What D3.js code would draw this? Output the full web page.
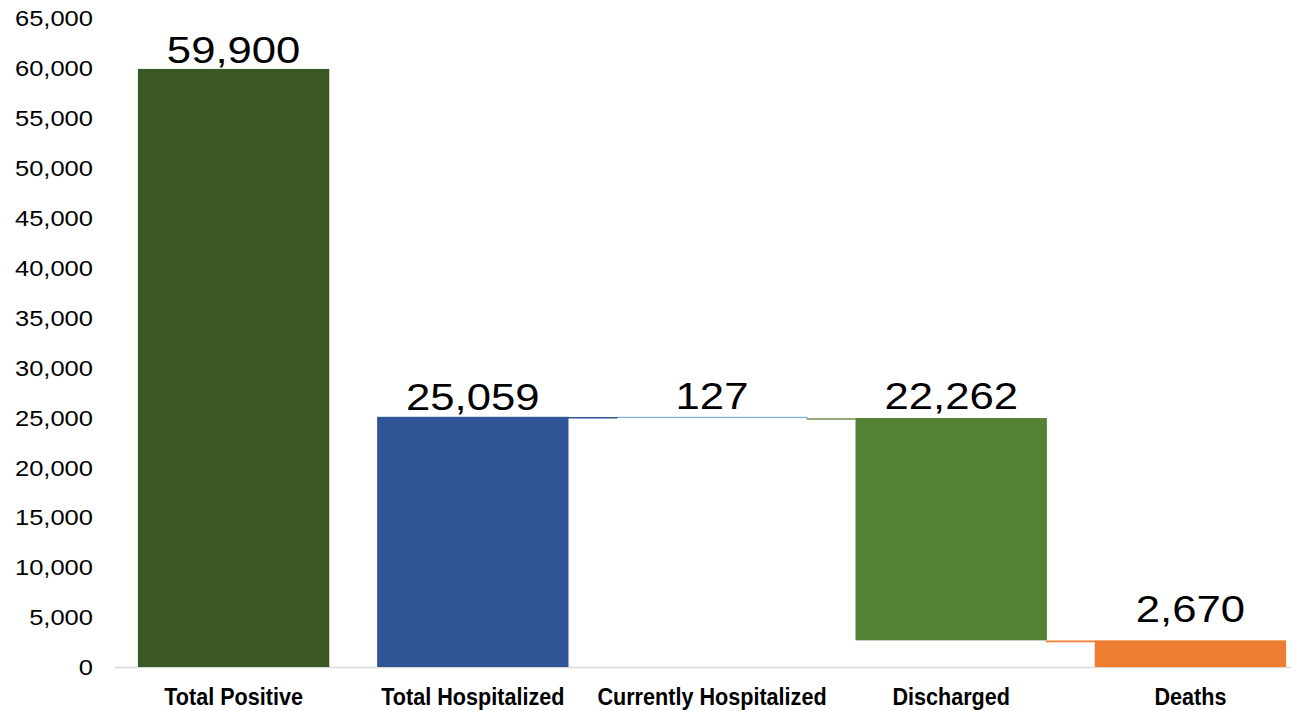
<!DOCTYPE html>
<html>
<head>
<meta charset="utf-8">
<script src="https://cdn.jsdelivr.net/npm/d3@7"></script>
<style>
  html, body { margin: 0; padding: 0; background: #fff; }
  svg { display: block; }
</style>
</head>
<body>
<svg id="chart" width="1291" height="711"></svg>
<script>
// ---- data ----
const categories = ["Total Positive", "Total Hospitalized", "Currently Hospitalized", "Discharged", "Deaths"];
const values = [59900, 25059, 127, 22262, 2670];
const kinds = ["total", "total", "decrease", "decrease", "decrease"];
const yTicks = [0, 5000, 10000, 15000, 20000, 25000, 30000, 35000, 40000, 45000, 50000, 55000, 60000, 65000];

// ---- styles ----
const barColors = ["#3b5823", "#2f5597", "#7eb0e0", "#548235", "#ed7d31"];
const connectorColors = [null, "#2f5597", "#6f8a4a", "#ed7d31"]; // gap i between bar i and i+1
const labelGap = [6, 7, 8, 9, 18];

const svg = d3.select("#chart");

const x = d3.scaleBand().domain(categories).range([114, 1310]).paddingInner(0.2).paddingOuter(0.1);
const y = d3.scaleLinear().domain([0, 65000]).range([667, 18]);

// waterfall geometry
let running = 0;
const bars = categories.map((c, i) => {
  let lo, hi;
  if (kinds[i] === "total") { lo = 0; hi = values[i]; running = values[i]; }
  else { hi = running; lo = running - values[i]; running = lo; }
  return { c, i, lo, hi, v: values[i] };
});

// baseline
svg.append("line")
  .attr("x1", 115).attr("x2", 1310)
  .attr("y1", y(0) + 0.5).attr("y2", y(0) + 0.5)
  .attr("stroke", "#d9d9d9").attr("stroke-width", 1.5);

// y axis
const yAxis = d3.axisLeft(y).tickValues(yTicks).tickFormat(d3.format(",")).tickSize(0).tickPadding(0);
const gy = svg.append("g").attr("transform", "translate(93,0)").call(yAxis);
gy.select(".domain").remove();
gy.selectAll("text")
  .attr("font-family", "'Liberation Sans', Arial, sans-serif")
  .attr("font-size", 22)
  .attr("fill", "#000")
  .attr("dy", "0.35em")
  .attr("transform", "scale(1.16,1)");

// bars
svg.append("g").selectAll("rect").data(bars).join("rect")
  .attr("x", d => x(d.c))
  .attr("width", x.bandwidth())
  .attr("y", d => y(d.hi))
  .attr("height", d => Math.max(1.3, y(d.lo) - y(d.hi)))
  .attr("fill", d => barColors[d.i]);

// connectors
for (let i = 0; i < bars.length - 1; i++) {
  const nxt = bars[i + 1];
  if (kinds[i + 1] !== "decrease") continue;
  const level = nxt.hi;
  svg.append("line")
    .attr("x1", x(bars[i].c) + x.bandwidth() - 1)
    .attr("x2", x(nxt.c) + 1)
    .attr("y1", y(level) + 1).attr("y2", y(level) + 1)
    .attr("stroke", connectorColors[i]).attr("stroke-width", 1.6);
}

// value labels
svg.append("g").selectAll("text").data(bars).join("text")
  .attr("transform", d => `translate(${x(d.c) + x.bandwidth() / 2},${y(d.hi) - labelGap[d.i]}) scale(1.18,1)`)
  .attr("text-anchor", "middle")
  .attr("font-family", "'Liberation Sans', Arial, sans-serif")
  .attr("font-size", 37)
  .attr("fill", "#000")
  .text(d => d3.format(",")(d.v));

// category labels
svg.append("g").selectAll("text").data(bars).join("text")
  .attr("transform", d => `translate(${x(d.c) + x.bandwidth() / 2},705) scale(0.9,1)`)
  .attr("text-anchor", "middle")
  .attr("font-family", "'Liberation Sans', Arial, sans-serif")
  .attr("font-weight", "bold")
  .attr("font-size", 24)
  .attr("fill", "#000")
  .text(d => d.c);
</script>
</body>
</html>
